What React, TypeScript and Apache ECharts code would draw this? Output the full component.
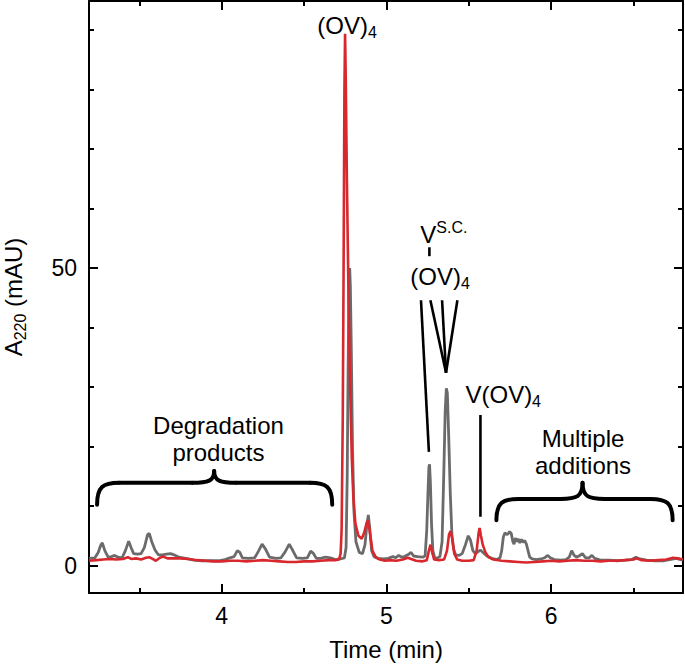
import React, { useEffect, useRef } from "react";
import * as echarts from "echarts";

// ---- data ----
const grayTime = [
  3.195, 3.23, 3.25, 3.265, 3.275, 3.29, 3.31, 3.33, 3.35, 3.37, 3.395, 3.415, 3.435, 3.45, 3.465, 3.49, 3.51, 3.53, 3.55, 3.56,
  3.575, 3.595, 3.615, 3.64, 3.665, 3.69, 3.71, 3.74, 3.78, 3.83, 3.88, 3.93, 3.98, 4.02, 4.05, 4.075, 4.095, 4.11, 4.125, 4.16,
  4.2, 4.225, 4.245, 4.265, 4.29, 4.33, 4.36, 4.385, 4.41, 4.43, 4.455, 4.49, 4.52, 4.54, 4.555, 4.575, 4.6, 4.63, 4.66, 4.69,
  4.72, 4.745, 4.755, 4.762, 4.768, 4.773, 4.777, 4.781, 4.787, 4.794, 4.803, 4.815, 4.835, 4.855, 4.87, 4.882, 4.89, 4.898, 4.91, 4.925,
  4.95, 4.98, 5.01, 5.04, 5.055, 5.075, 5.095, 5.11, 5.13, 5.15, 5.165, 5.19, 5.22, 5.235, 5.245, 5.252, 5.258, 5.262, 5.267, 5.274,
  5.282, 5.292, 5.305, 5.325, 5.338, 5.348, 5.357, 5.364, 5.37, 5.378, 5.388, 5.398, 5.408, 5.42, 5.44, 5.46, 5.48, 5.497, 5.51, 5.525,
  5.54, 5.555, 5.57, 5.59, 5.61, 5.64, 5.67, 5.69, 5.7, 5.71, 5.72, 5.73, 5.738, 5.748, 5.758, 5.768, 5.775, 5.783, 5.792, 5.8,
  5.81, 5.82, 5.83, 5.84, 5.85, 5.86, 5.87, 5.885, 5.91, 5.94, 5.96, 5.98, 5.995, 6.02, 6.06, 6.09, 6.11, 6.125, 6.14, 6.155,
  6.17, 6.19, 6.21, 6.23, 6.248, 6.265, 6.3, 6.35, 6.4, 6.45, 6.49, 6.515, 6.54, 6.58, 6.63, 6.68, 6.72, 6.76, 6.8,
];
const grayValue = [
  1.2, 1.3, 2.2, 3.4, 3.8, 2.5, 1.4, 1.5, 1.7, 1.4, 1.3, 2.5, 4.1, 3.0, 2.0, 1.9, 2.0, 3.0, 5.2, 5.4,
  4.0, 2.6, 1.8, 1.8, 1.9, 2.0, 1.8, 1.4, 1.2, 0.9, 0.8, 0.8, 0.8, 1.0, 1.3, 1.5, 2.5, 2.2, 1.3, 1.2,
  1.3, 2.5, 3.6, 2.8, 1.4, 1.2, 1.3, 2.3, 3.6, 2.6, 1.3, 1.2, 1.3, 2.4, 2.1, 1.2, 1.2, 1.4, 1.3, 1.0,
  1.1, 1.3, 3, 15, 35, 48, 50, 47, 36, 20, 9, 4, 2.2, 2.0, 3.5, 7, 8.5, 6.5, 2.5, 1.5,
  1.2, 1.1, 1.2, 1.5, 1.3, 1.7, 1.4, 1.5, 1.8, 2.2, 1.6, 1.5, 1.4, 1.6, 6, 12, 16.5, 17, 14, 7,
  2.5, 1.4, 1.2, 1.5, 4, 15, 26, 29.8, 29, 22, 12, 5, 2.8, 1.8, 1.7, 2.0, 3.5, 5.0, 4.3, 2.5,
  2.0, 2.3, 2.6, 2.1, 1.6, 1.2, 1.0, 1.3, 2.5, 4.8, 5.5, 5.2, 5.3, 5.7, 5.4, 4.0, 3.6, 4.6, 4.0, 4.5,
  3.8, 4.4, 3.9, 4.2, 3.6, 2.5, 1.4, 1.1, 1.0, 1.1, 1.3, 1.7, 1.3, 1.0, 0.9, 1.0, 1.4, 2.5, 1.7, 1.4,
  1.6, 2.0, 1.3, 1.3, 1.7, 1.2, 0.9, 0.9, 0.8, 0.9, 1.0, 1.4, 1.1, 0.9, 0.8, 0.8, 1.0, 1.2, 0.9,
];
const redTime = [
  3.195, 3.24, 3.28, 3.32, 3.36, 3.4, 3.43, 3.45, 3.48, 3.51, 3.54, 3.56, 3.58, 3.6, 3.625, 3.645, 3.67, 3.7, 3.75, 3.8,
  3.85, 3.9, 3.95, 4.0, 4.05, 4.1, 4.15, 4.2, 4.25, 4.3, 4.35, 4.4, 4.45, 4.5, 4.55, 4.6, 4.65, 4.69, 4.712, 4.722,
  4.728, 4.735, 4.74, 4.745, 4.749, 4.753, 4.76, 4.77, 4.778, 4.79, 4.8, 4.812, 4.83, 4.85, 4.865, 4.88, 4.89, 4.9, 4.915, 4.935,
  4.96, 4.99, 5.02, 5.06, 5.1, 5.13, 5.15, 5.18, 5.22, 5.245, 5.258, 5.268, 5.278, 5.29, 5.32, 5.35, 5.368, 5.38, 5.39, 5.4,
  5.412, 5.43, 5.46, 5.5, 5.53, 5.548, 5.56, 5.566, 5.574, 5.585, 5.6, 5.62, 5.65, 5.7, 5.75, 5.8, 5.85, 5.9, 5.95, 6.0,
  6.05, 6.1, 6.15, 6.2, 6.25, 6.3, 6.35, 6.4, 6.45, 6.5, 6.52, 6.55, 6.6, 6.65, 6.7, 6.74, 6.77, 6.8,
];
const redValue = [
  0.8, 0.9, 1.0, 1.1, 1.0, 1.1, 1.4, 1.1, 1.2, 1.0, 1.3, 1.4, 1.1, 0.8, 1.3, 1.5, 1.2, 1.2, 1.2, 1.1,
  0.9, 0.8, 0.7, 0.7, 0.8, 0.8, 0.7, 0.8, 0.9, 0.8, 0.7, 0.6, 0.6, 0.7, 0.7, 0.8, 0.9, 0.9, 1.0, 2,
  6, 25, 50, 80, 89.4, 82, 65, 45, 32, 18, 11, 7, 5, 4.5, 5.5, 7.2, 7.6, 5.5, 2.5, 1.4,
  1.0, 0.8, 0.9, 0.8, 1.0, 1.3, 1.1, 0.8, 0.7, 0.9, 2.5, 3.5, 2.2, 1.0, 0.9, 1.0, 2.5, 5.2, 5.8, 4.5,
  2.0, 1.0, 0.8, 0.8, 0.9, 2.5, 5.5, 6.3, 5.0, 3.5, 2.3, 1.4, 1.0, 0.8, 0.7, 0.6, 0.5, 0.6, 0.7, 0.8,
  0.7, 0.8, 0.9, 0.8, 0.8, 0.7, 0.8, 0.8, 0.9, 1.0, 1.2, 0.9, 0.8, 0.9, 1.0, 1.3, 1.2, 1.0,
];

const xLabelTicks = [4, 5, 6];
const xMinorTicks = [3.5, 4.5, 5.5, 6.5];
const yLabelTicks = [0, 50];
const yMinorTicks = [10, 20, 30, 40, 60, 70, 80, 90];

const X_MIN = 3.194;
const X_MAX = 6.801;
const Y_MIN = -4.62;
const Y_MAX = 94.9;

const FONT = '"Liberation Sans", Arial, Helvetica, sans-serif';
const GRAY = "#6b6b6b";
const RED = "#d8282e";

const pair = (t: number[], v: number[]) => t.map((x, i) => [x, v[i]]);

export default function App() {
  const ref = useRef<HTMLDivElement>(null);

  useEffect(() => {
    if (!ref.current) return;
    const chart = echarts.init(ref.current, undefined, { renderer: "svg" });

    const axisCommon = (extra: any) => ({
      type: "value",
      min: X_MIN,
      max: X_MAX,
      splitLine: { show: false },
      ...extra,
    });
    const blackLine = { color: "#000", width: 2 };

    const xAxis = [
      axisCommon({
        position: "bottom",
        axisLine: { show: true, onZero: false, lineStyle: blackLine },
        axisTick: { show: true, inside: true, length: 9, customValues: xLabelTicks, lineStyle: blackLine },
        axisLabel: { show: true, customValues: xLabelTicks, margin: 11, fontSize: 23, color: "#000", fontFamily: FONT },
        name: "Time (min)",
        nameLocation: "middle",
        nameGap: 44,
        nameTextStyle: { fontSize: 24, color: "#000", fontFamily: FONT },
      }),
      axisCommon({
        position: "bottom",
        axisLine: { show: false, onZero: false },
        axisTick: { show: true, inside: true, length: 5, customValues: xMinorTicks, lineStyle: blackLine },
        axisLabel: { show: false },
      }),
      axisCommon({
        position: "top",
        axisLine: { show: true, onZero: false, lineStyle: blackLine },
        axisTick: { show: true, inside: true, length: 9, customValues: xLabelTicks, lineStyle: blackLine },
        axisLabel: { show: false },
      }),
      axisCommon({
        position: "top",
        axisLine: { show: false, onZero: false },
        axisTick: { show: true, inside: true, length: 5, customValues: xMinorTicks, lineStyle: blackLine },
        axisLabel: { show: false },
      }),
    ];

    const yCommon = (extra: any) => ({
      type: "value",
      min: Y_MIN,
      max: Y_MAX,
      splitLine: { show: false },
      ...extra,
    });
    const yAxis = [
      yCommon({
        position: "left",
        axisLine: { show: true, onZero: false, lineStyle: blackLine },
        axisTick: { show: true, inside: true, length: 9, customValues: yLabelTicks, lineStyle: blackLine },
        axisLabel: { show: true, customValues: yLabelTicks, margin: 12, fontSize: 23, color: "#000", fontFamily: FONT },
      }),
      yCommon({
        position: "left",
        axisLine: { show: false, onZero: false },
        axisTick: { show: true, inside: true, length: 5, customValues: yMinorTicks, lineStyle: blackLine },
        axisLabel: { show: false },
      }),
      yCommon({
        position: "right",
        axisLine: { show: true, onZero: false, lineStyle: blackLine },
        axisTick: { show: true, inside: true, length: 9, customValues: yLabelTicks, lineStyle: blackLine },
        axisLabel: { show: false },
      }),
      yCommon({
        position: "right",
        axisLine: { show: false, onZero: false },
        axisTick: { show: true, inside: true, length: 5, customValues: yMinorTicks, lineStyle: blackLine },
        axisLabel: { show: false },
      }),
    ];

    chart.setOption({
      animation: false,
      grid: { left: 89, right: 2, top: 1, bottom: 74, containLabel: false },
      xAxis,
      yAxis,
      series: [
        {
          name: "gray",
          type: "line",
          xAxisIndex: 0,
          yAxisIndex: 0,
          data: pair(grayTime, grayValue),
          symbol: "none",
          lineStyle: { color: GRAY, width: 2.8 },
          z: 2,
        },
        {
          name: "red",
          type: "line",
          xAxisIndex: 0,
          yAxisIndex: 0,
          data: pair(redTime, redValue),
          symbol: "none",
          lineStyle: { color: RED, width: 2.6 },
          z: 3,
        },
      ],
    });

    const P = (x: number, y: number) => chart.convertToPixel({ xAxisIndex: 0, yAxisIndex: 0 }, [x, y]) as number[];

    const rich = {
      m: { fontSize: 24, fontFamily: FONT, fill: "#000", lineHeight: 30, verticalAlign: "middle" },
      s: { fontSize: 16, fontFamily: FONT, fill: "#000", lineHeight: 12, verticalAlign: "bottom" },
      p: { fontSize: 16, fontFamily: FONT, fill: "#000", lineHeight: 22, verticalAlign: "top" },
    };

    const richText = (text: string, x: number, y: number, extra: any = {}) => {
      const [px, py] = P(x, y);
      return {
        type: "text",
        x: px,
        y: py,
        style: { text, rich, align: "left", verticalAlign: "middle", fill: "#000", fontSize: 24, fontFamily: FONT, ...extra },
        z: 10,
      };
    };
    const plainText = (text: string, x: number, y: number) => {
      const [px, py] = P(x, y);
      return {
        type: "text",
        x: px,
        y: py,
        style: { text, align: "center", verticalAlign: "middle", fill: "#000", fontSize: 24, fontFamily: FONT, lineHeight: 27 },
        z: 10,
      };
    };
    const seg = (x1: number, y1: number, x2: number, y2: number) => {
      const a = P(x1, y1);
      const b = P(x2, y2);
      return {
        type: "line",
        shape: { x1: a[0], y1: a[1], x2: b[0], y2: b[1] },
        style: { stroke: "#000", lineWidth: 2.6 },
        z: 10,
      };
    };
    const brace = (xl: number, xr: number, xm: number, ye: number, yh: number, yt: number) => {
      const [L, E] = P(xl, ye);
      const [R] = P(xr, ye);
      const [M, H] = P(xm, yh);
      const T = P(xm, yt)[1];
      const r = 22;
      const st = { stroke: "#000", lineWidth: 4, fill: "none", lineCap: "round" };
      return [
        { type: "bezierCurve", shape: { x1: L, y1: E, x2: L + r, y2: H, cpx1: L, cpy1: H + 4, cpx2: L + 6, cpy2: H }, style: st, z: 10 },
        { type: "line", shape: { x1: L + r, y1: H, x2: M - r, y2: H }, style: st, z: 10 },
        { type: "bezierCurve", shape: { x1: M - r, y1: H, x2: M, y2: T, cpx1: M - 6, cpy1: H, cpx2: M, cpy2: H - 2 }, style: st, z: 10 },
        { type: "bezierCurve", shape: { x1: M, y1: T, x2: M + r, y2: H, cpx1: M, cpy1: H - 2, cpx2: M + 6, cpy2: H }, style: st, z: 10 },
        { type: "line", shape: { x1: M + r, y1: H, x2: R - r, y2: H }, style: st, z: 10 },
        { type: "bezierCurve", shape: { x1: R - r, y1: H, x2: R, y2: E, cpx1: R - 6, cpy1: H, cpx2: R, cpy2: H + 4 }, style: st, z: 10 },
      ];
    };

    const yMid = P(X_MIN, (Y_MIN + Y_MAX) / 2)[1];

    chart.setOption({
      graphic: [
        {
          type: "text",
          x: 13,
          y: yMid,
          rotation: Math.PI / 2,
          style: { text: "{m|A}{s|220}{m| (mAU)}", rich, align: "center", verticalAlign: "middle", fill: "#000" },
          z: 10,
        },
        richText("{m|(OV)}{s|4}", 4.58, 90.8),
        richText("{m|V}{p|S.C.}", 5.206, 55.6),
        seg(5.261, 53.5, 5.261, 52.0),
        richText("{m|(OV)}{s|4}", 5.145, 48.6),
        seg(5.21, 44.6, 5.258, 19.1),
        seg(5.267, 44.6, 5.362, 32.4),
        seg(5.338, 44.6, 5.362, 32.4),
        seg(5.431, 44.6, 5.362, 32.4),
        richText("{m|V(OV)}{s|4}", 5.48, 28.7),
        seg(5.571, 25.3, 5.571, 8.2),
        plainText("Degradation\nproducts", 3.98, 21.3),
        plainText("Multiple\nadditions", 6.194, 19.0),
        ...brace(3.243, 4.671, 3.954, 10.2, 13.9, 15.9),
        ...brace(5.668, 6.738, 6.191, 7.6, 11.2, 13.9),
      ],
    });

    return () => chart.dispose();
  }, []);

  return <div ref={ref} style={{ position: "absolute", left: 0, top: 0, width: 685, height: 667, background: "#fff" }} />;
}
